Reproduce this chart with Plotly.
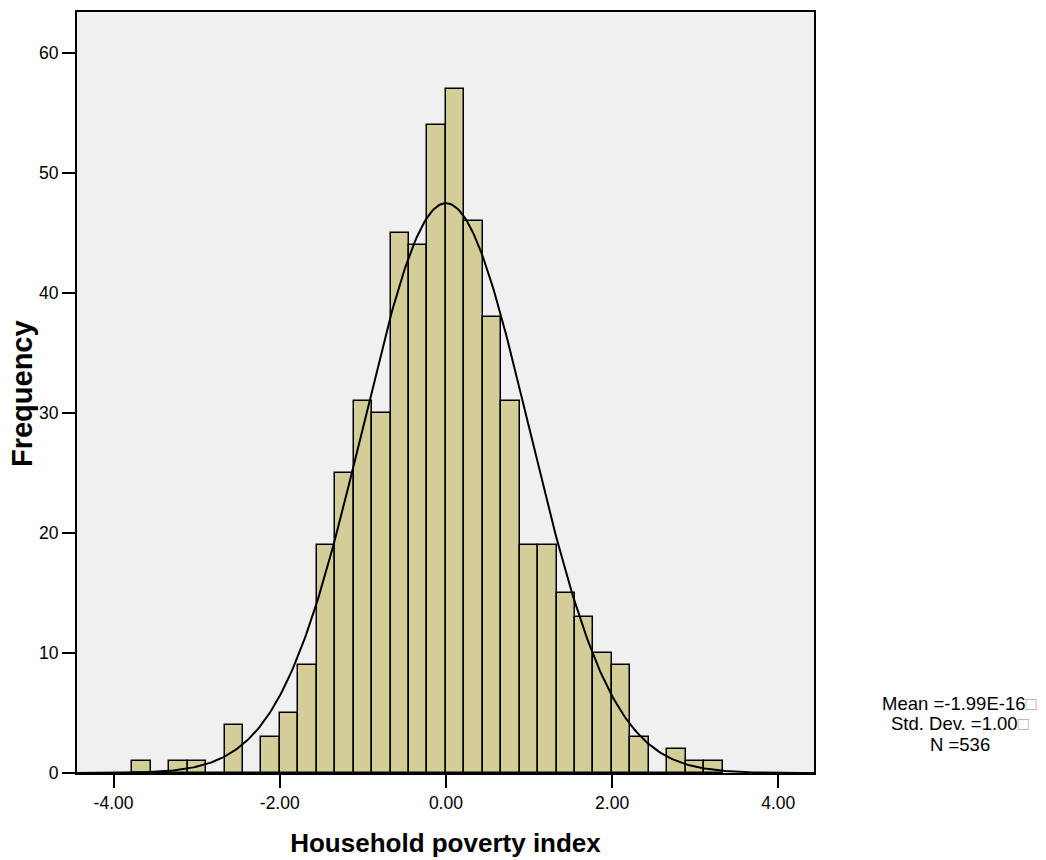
import numpy as np
import plotly.graph_objects as go

# Histogram data (bin index relative to 0, width in index units)
bin_width = 0.222
first_bin_index = -17
counts = [1, 0, 1, 1, 0, 4, 0, 3, 5, 9, 19, 25, 31, 30, 45, 44, 54,
          57, 46, 38, 31, 19, 19, 15, 13, 10, 9, 3, 0, 2, 1, 1]
mean = -1.99e-16
std = 1.00
n_total = 536

x_ticks = [-4, -2, 0, 2, 4]
x_tick_labels = ["-4.00", "-2.00", "0.00", "2.00", "4.00"]
y_ticks = [0, 10, 20, 30, 40, 50, 60]

stat_lines = ["Mean =-1.99E-16", "Std. Dev. =1.00", "N =536"]

x_range = [-4.44, 4.43]
y_range = [0, 63.4]

centers = [(first_bin_index + i + 0.5) * bin_width for i in range(len(counts))]

FONT = "Liberation Sans, Arial, sans-serif"

fig = go.Figure()
fig.add_trace(go.Bar(
    x=centers, y=counts, width=[bin_width] * len(counts),
    marker=dict(color="#d3ce98", line=dict(color="black", width=1.5)),
    showlegend=False, hoverinfo="skip"))

xs = np.linspace(x_range[0], x_range[1], 400)
ys = n_total * bin_width / (std * np.sqrt(2 * np.pi)) * np.exp(-0.5 * ((xs - mean) / std) ** 2)
fig.add_trace(go.Scatter(x=xs, y=ys, mode="lines",
                         line=dict(color="black", width=2),
                         showlegend=False, hoverinfo="skip"))

axis_font = dict(family=FONT, size=17.5, color="black")
fig.update_layout(
    width=1046, height=860,
    margin=dict(l=77, r=232, t=12, b=87),
    paper_bgcolor="white", plot_bgcolor="#f0f0f0",
    bargap=0,
    xaxis=dict(range=x_range, tickvals=x_ticks, ticktext=x_tick_labels,
               automargin=False,
               showgrid=False, zeroline=False, showline=True, linecolor="black",
               linewidth=2, mirror=True, ticks="outside", ticklen=13, tickwidth=2,
               tickcolor="black", tickfont=axis_font,
               title=dict(text="<b>Household poverty index</b>",
                          font=dict(family=FONT, size=26, color="black"),
                          standoff=22)),
    yaxis=dict(range=y_range, tickvals=y_ticks, showgrid=False, zeroline=False,
               automargin=False,
               showline=True, linecolor="black", linewidth=2, mirror=True,
               ticks="outside", ticklen=13, tickwidth=2, tickcolor="black",
               tickfont=axis_font),
    font=dict(family=FONT),
)

fig.add_annotation(
    xref="paper", yref="paper", x=-0.0746, y=0.498, xanchor="center", yanchor="middle",
    text="<b>Frequency</b>", textangle=-90, showarrow=False,
    font=dict(family=FONT, size=29, color="black"))

box = "<span style='color:#aaaaaa'>□</span>"
line_y = [0.0907, 0.0644, 0.0368]
for i, (txt, yy) in enumerate(zip(stat_lines, line_y)):
    t = txt + (box if i < 2 else "")
    fig.add_annotation(
        xref="paper", yref="paper", x=1.198, y=yy, xanchor="center", yanchor="middle",
        text=t, showarrow=False, align="center",
        font=dict(family=FONT, size=18.5, color="black"))

fig.write_html("out.html", config={"displayModeBar": False},
               post_script="document.body.style.margin='0px';document.body.style.overflow='hidden';")
